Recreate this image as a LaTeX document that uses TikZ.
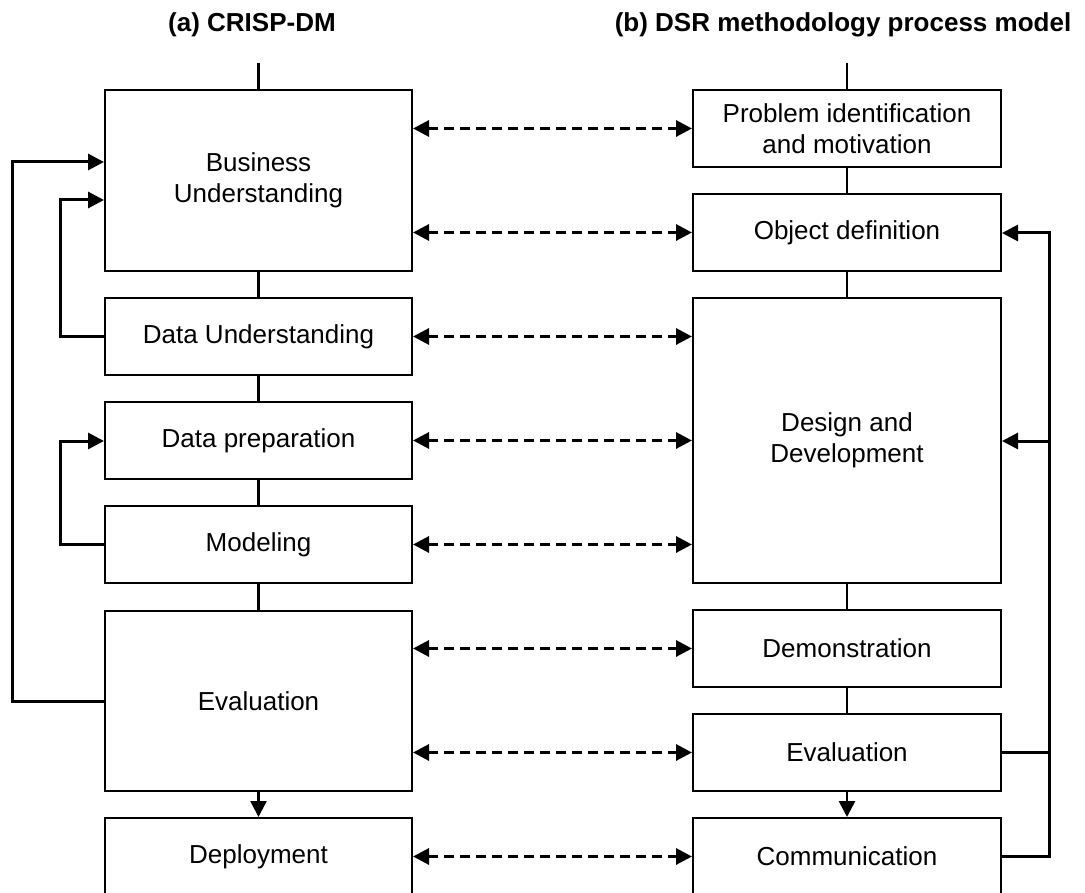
\documentclass[tikz,border=0pt]{standalone}
\usepackage{fontspec}
\setmainfont{Liberation Sans}
\usetikzlibrary{arrows.meta,calc}
\begin{document}
\begin{tikzpicture}[x=1pt,y=-1pt,
  box/.style={draw,line width=2pt,minimum width=307pt,align=center,inner sep=0pt,
    font=\fontsize{26}{31}\selectfont},
  ttl/.style={anchor=base,font=\fontsize{26}{31}\selectfont\bfseries},
  tip/.style={-{Triangle[length=16pt,width=16pt]}},
  link/.style={line width=2.6pt},
  fb/.style={line width=3pt,-{Triangle[length=16pt,width=16pt]}},
  dasharrow/.style={line width=3pt,dash pattern=on 10pt off 6pt,
    {Triangle[length=16pt,width=16pt]}-{Triangle[length=16pt,width=16pt]}}]
\clip (0,0) rectangle (1085,893);
\fill[white] (0,0) rectangle (1085,893);
% titles
\node[ttl] (ta) at (252,32) {(a) CRISP-DM};
\node[ttl] (tb) at (843,32) {(b) DSR methodology process model};
% left column
\node[box,minimum height=181pt] (L1) at (258.5,180.5) {Business\\Understanding};
\node[box,minimum height=77pt] (L2) at (258.5,336.5) {Data Understanding};
\node[box,minimum height=77pt] (L3) at (258.5,440.5) {Data preparation};
\node[box,minimum height=77pt] (L4) at (258.5,544.5) {Modeling};
\node[box,minimum height=180pt] (L5) at (258.5,701) {Evaluation};
\node[box,minimum height=77pt] (L6) at (258.5,856.5) {Deployment};
% right column
\node[box,minimum width=308pt,minimum height=77pt] (R1) at (847,128.5) {Problem identification\\and motivation};
\node[box,minimum width=308pt,minimum height=77pt] (R2) at (847,232.5) {Object definition};
\node[box,minimum width=308pt,minimum height=285pt] (R3) at (847,440.5) {Design and\\Development};
\node[box,minimum width=308pt,minimum height=77pt] (R4) at (847,648.5) {Demonstration};
\node[box,minimum width=308pt,minimum height=77pt] (R5) at (847,752.5) {Evaluation};
\node[box,minimum width=308pt,minimum height=77pt] (R6) at (847,856.5) {Communication};
% entry lines
\coordinate (sa) at (258.5,63);
\coordinate (sb) at (847,63);
\draw[link] (sa) -- (L1.north);
\draw[link] (sb) -- (R1.north);
% column links
\draw[link] (L1) -- (L2);
\draw[link] (L2) -- (L3);
\draw[link] (L3) -- (L4);
\draw[link] (L4) -- (L5);
\draw[link,tip] (L5) -- (L6);
\draw[link] (R1) -- (R2);
\draw[link] (R2) -- (R3);
\draw[link] (R3) -- (R4);
\draw[link] (R4) -- (R5);
\draw[link,tip] (R5) -- (R6);
% dashed correspondences
\draw[dasharrow] (L1.east |- R1.west) -- (R1.west);
\draw[dasharrow] (L1.east |- R2.west) -- (R2.west);
\draw[dasharrow] (L2.east) -- (R3.west |- L2.east);
\draw[dasharrow] (L3.east) -- (R3.west |- L3.east);
\draw[dasharrow] (L4.east) -- (R3.west |- L4.east);
\draw[dasharrow] (L5.east |- R4.west) -- (R4.west);
\draw[dasharrow] (L5.east |- R5.west) -- (R5.west);
\draw[dasharrow] (L6.east) -- (R6.west);
% feedback loops left
\draw[fb] (L5.west) -| (12,162) -- (L1.west |- 0,162);
\draw[fb] (L2.west) -| (60,200) -- (L1.west |- 0,200);
\draw[fb] (L4.west) -| (60,441) -- (L3.west |- 0,441);
% feedback loops right
\coordinate (rj) at (1049,752.5);
\draw[fb] (R6.east) -| (1049,233) -- (R2.east |- 0,233);
\draw[line width=3pt] (R5.east) -- (rj);
\draw[fb] (1049,441) -- (R3.east |- 0,441);
\end{tikzpicture}
\end{document}
